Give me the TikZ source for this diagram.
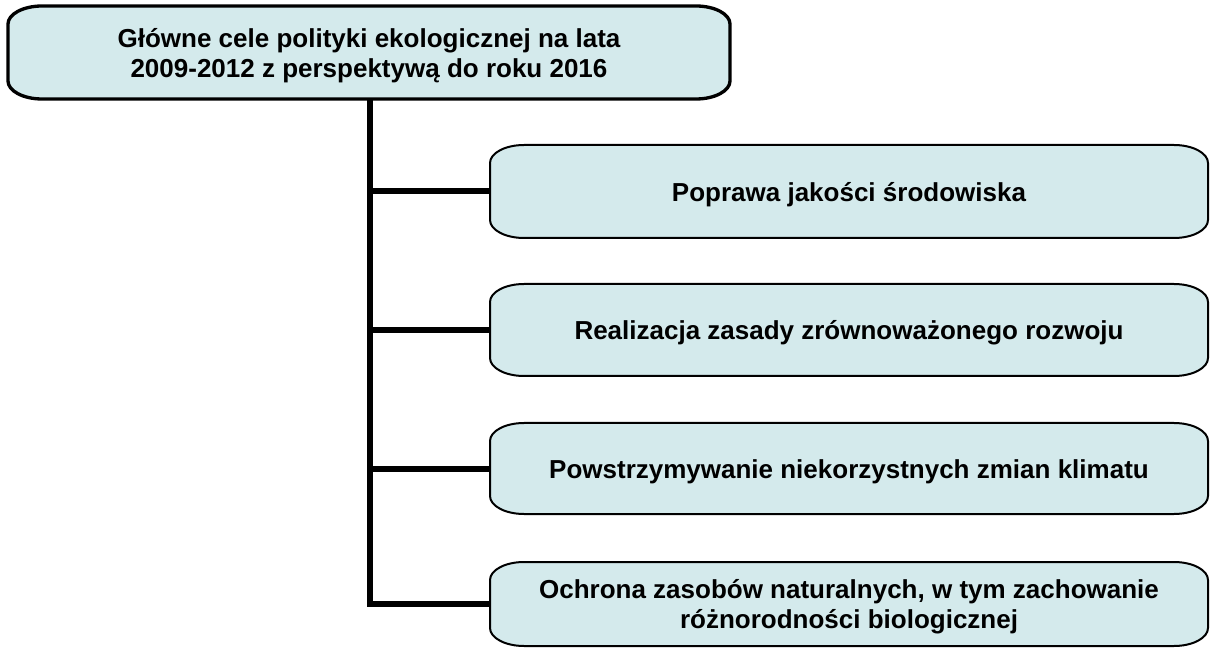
\documentclass[tikz,border=0pt]{standalone}
\usepackage{fontspec}
\setmainfont{Liberation Sans}
\definecolor{tloRamki}{RGB}{212,234,236}

\begin{document}
\begin{tikzpicture}[
    x=0.75pt, y=0.75pt,
    font={\bfseries\fontsize{19.5}{22.5}\selectfont},
    % Styl ramek i linii laczacych
    ramka/.style={fill=tloRamki, draw=black},
    opis/.style={inner sep=0pt, align=center},
    lacznik/.style={line width=4.5pt}
]
\useasboundingbox (0,0) rectangle (1210,-648);

% =========================================================
% === PARAMETRY UKLADU (jednostka = 1 piksel) ===
% =========================================================
\def\rx{34}      % Promien poziomy zaokraglenia narozy
\def\ry{18}      % Promien pionowy zaokraglenia narozy
\def\kolX{849}   % Srodek kolumny celow (X)
\def\kolW{718}   % Szerokosc ramek celow
\def\pionX{370}  % Polozenie pionowej linii laczacej
\def\tekstY{3}   % Obnizenie tekstu wzgledem srodka ramki
% =========================================================

% Makro rysujace ramke z eliptycznymi narozami
% #1: Nazwa node
% #2, #3: Wspolrzedne srodka
% #4, #5: Szerokosc i wysokosc
% #6: Grubosc obramowania
% #7: Tekst
\def\celbox#1(#2,#3)#4#5#6#7{
    \begin{scope}[shift={({#2},{#3})}]
        \draw[ramka, line width=#6] ({-#4/2+\rx},{#5/2}) -- ({#4/2-\rx},{#5/2})
            arc[start angle=90, end angle=0, x radius=\rx, y radius=\ry]
            -- ({#4/2},{-#5/2+\ry})
            arc[start angle=0, end angle=-90, x radius=\rx, y radius=\ry]
            -- ({-#4/2+\rx},{-#5/2})
            arc[start angle=270, end angle=180, x radius=\rx, y radius=\ry]
            -- ({-#4/2},{#5/2-\ry})
            arc[start angle=180, end angle=90, x radius=\rx, y radius=\ry]
            -- cycle;
    \end{scope}
    \node[opis, minimum width={#4*0.75pt}, minimum height={#5*0.75pt}] (#1) at ({#2},{#3-\tekstY}) {#7};
}

% --- Ramka glowna ---
\celbox{glowny}(369,-52.5){722}{93}{2.5pt}{Główne cele polityki ekologicznej na lata\\2009-2012 z perspektywą do roku 2016}

% --- Kolumna celow ---
\celbox{cel1}(\kolX,-191.5){\kolW}{93}{1.5pt}{Poprawa jakości środowiska}
\celbox{cel2}(\kolX,-330){\kolW}{92}{1.5pt}{Realizacja zasady zrównoważonego rozwoju}
\celbox{cel3}(\kolX,-468.5){\kolW}{91}{1.5pt}{Powstrzymywanie niekorzystnych zmian klimatu}
\celbox{cel4}(\kolX,-604){\kolW}{84}{1.5pt}{Ochrona zasobów naturalnych, w tym zachowanie\\różnorodności biologicznej}

% --- Linie laczace ---
\coordinate (pion) at (\pionX,0);
\draw[lacznik] ([yshift=\tekstY*0.75pt]glowny.south -| pion) |- ([yshift=\tekstY*0.75pt]cel4.west);
\foreach \n in {cel1,cel2,cel3}
    \draw[lacznik] ([yshift=\tekstY*0.75pt]\n.west -| pion) -- ([yshift=\tekstY*0.75pt]\n.west);

\end{tikzpicture}
\end{document}
